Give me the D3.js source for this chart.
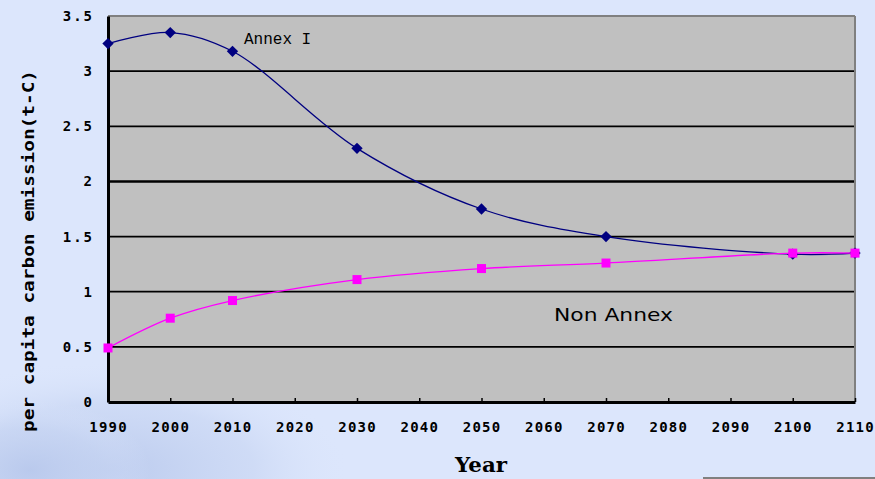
<!DOCTYPE html>
<html><head><meta charset="utf-8">
<script src="https://cdn.jsdelivr.net/npm/d3@7"></script>
<style>
html,body{margin:0;padding:0;background:#dce6fc;}
svg{display:block;}
</style></head>
<body>
<svg id="chart" width="875" height="479"></svg>
<script>
const years = [1990, 2000, 2010, 2030, 2050, 2070, 2100, 2110];
const annexI = [3.25, 3.35, 3.18, 2.30, 1.75, 1.50, 1.34, 1.35];
const nonAnnex = [0.49, 0.76, 0.92, 1.11, 1.21, 1.26, 1.35, 1.35];
const xTicks = [1990, 2000, 2010, 2020, 2030, 2040, 2050, 2060, 2070, 2080, 2090, 2100, 2110];
const yTicks = [0, 0.5, 1, 1.5, 2, 2.5, 3, 3.5];
const yTickLabels = ["0", "0.5", "1", "1.5", "2", "2.5", "3", "3.5"];

const svg = d3.select("#chart");
const W = 875, H = 479;
const m = {left: 108, right: 20, top: 16, bottom: 77};

// background
const defs = svg.append("defs");
const rg = defs.append("radialGradient").attr("id","swirl").attr("cx","0.5").attr("cy","0.5").attr("r","0.5");
rg.append("stop").attr("offset","0%").attr("stop-color","#b8c8ec").attr("stop-opacity",0.9);
rg.append("stop").attr("offset","60%").attr("stop-color","#c6d4f2").attr("stop-opacity",0.6);
rg.append("stop").attr("offset","100%").attr("stop-color","#dce6fc").attr("stop-opacity",0);
svg.append("rect").attr("width",W).attr("height",H).attr("fill","#dce6fc");
svg.append("ellipse").attr("cx",110).attr("cy",470).attr("rx",240).attr("ry",110).attr("fill","url(#swirl)");
svg.append("ellipse").attr("cx",30).attr("cy",470).attr("rx",120).attr("ry",70).attr("fill","url(#swirl)");

const x = d3.scaleLinear().domain([1990, 2110]).range([m.left, W - m.right]);
const y = d3.scaleLinear().domain([0, 3.5]).range([H - m.bottom, m.top]);

// plot area
svg.append("rect")
  .attr("x", x(1990)).attr("y", y(3.5))
  .attr("width", x(2110) - x(1990)).attr("height", y(0) - y(3.5))
  .attr("fill", "#c0c0c0");

// gridlines
svg.append("g").selectAll("line")
  .data(yTicks.filter(v => v > 0 && v < 3.5))
  .join("line")
  .attr("x1", x(1990)).attr("x2", x(2110))
  .attr("y1", d => y(d)).attr("y2", d => y(d))
  .attr("stroke", "#000")
  .attr("stroke-width", d => d === 2 ? 2.6 : 1.8);

// top/right borders gray
svg.append("line").attr("x1", x(1990)).attr("x2", x(2110)).attr("y1", y(3.5)).attr("y2", y(3.5))
  .attr("stroke", "#808080").attr("stroke-width", 2);
svg.append("line").attr("x1", x(2110)).attr("x2", x(2110)).attr("y1", y(3.5)).attr("y2", y(0))
  .attr("stroke", "#808080").attr("stroke-width", 2);

// axes
const fontTick = "'DejaVu Sans Mono', monospace";
const xAxis = d3.axisBottom(x).tickValues(xTicks).tickFormat(d3.format("d")).tickSizeInner(-4).tickSizeOuter(0).tickPadding(20);
const gx = svg.append("g").attr("transform", `translate(0,${y(0)})`).call(xAxis);
gx.select(".domain").attr("stroke", "#000").attr("stroke-width", 3);
gx.selectAll(".tick line").attr("stroke", "#000").attr("stroke-width", 1.5);
gx.selectAll(".tick text").attr("font-family", fontTick).attr("font-weight", "bold")
  .attr("font-size", 14).attr("letter-spacing", 1.2).attr("fill", "#000");

const yAxis = d3.axisLeft(y).tickValues(yTicks).tickFormat((d, i) => yTickLabels[i]).tickSize(0).tickPadding(14);
const gy = svg.append("g").attr("transform", `translate(${x(1990)},0)`).call(yAxis);
gy.select(".domain").attr("stroke", "#000").attr("stroke-width", 3);
gy.selectAll(".tick text").attr("font-family", fontTick).attr("font-weight", "bold")
  .attr("font-size", 14).attr("letter-spacing", 2).attr("fill", "#000");

// lines
const line = d3.line().x((d, i) => x(years[i])).y(d => y(d)).curve(d3.curveCatmullRom.alpha(0.5));
svg.append("path").datum(annexI).attr("d", line).attr("fill", "none")
  .attr("stroke", "#000080").attr("stroke-width", 1.3);
svg.append("g").selectAll("rect").data(annexI).join("rect")
  .attr("x", -4).attr("y", -4).attr("width", 8).attr("height", 8)
  .attr("transform", (d, i) => `translate(${x(years[i])},${y(d)}) rotate(45)`)
  .attr("fill", "#000080");

svg.append("path").datum(nonAnnex).attr("d", line).attr("fill", "none")
  .attr("stroke", "#ff00ff").attr("stroke-width", 1.3);
svg.append("g").selectAll("rect").data(nonAnnex).join("rect")
  .attr("x", (d, i) => x(years[i]) - 4.5).attr("y", d => y(d) - 4.5)
  .attr("width", 9).attr("height", 9)
  .attr("fill", "#ff00ff");

// annotations
svg.append("text").attr("x", 244).attr("y", 44).text("Annex I")
  .attr("font-family", "'Liberation Mono', monospace").attr("font-size", 16).attr("fill", "#000");
svg.append("text").attr("x", 554).attr("y", 321).text("Non Annex")
  .attr("font-family", "'DejaVu Sans', sans-serif").attr("font-size", 18)
  .attr("textLength", 119).attr("lengthAdjust", "spacingAndGlyphs").attr("fill", "#000");

// axis titles
svg.append("text").attr("x", 455).attr("y", 472).text("Year")
  .attr("font-family", "'DejaVu Serif', serif").attr("font-weight", "bold").attr("font-size", 20)
  .attr("textLength", 52).attr("lengthAdjust", "spacingAndGlyphs").attr("fill", "#000");
svg.append("text")
  .attr("transform", `translate(34,${(70 + 432) / 2}) rotate(-90)`)
  .attr("text-anchor", "middle")
  .text("per capita carbon emission(t-C)")
  .attr("font-family", fontTick).attr("font-weight", "bold").attr("font-size", 15)
  .attr("textLength", 362).attr("lengthAdjust", "spacingAndGlyphs").attr("fill", "#000");

// bottom-right fragment
svg.append("line").attr("x1", 703).attr("x2", 875).attr("y1", 478).attr("y2", 478)
  .attr("stroke", "#808080").attr("stroke-width", 2);
</script>
</body></html>
